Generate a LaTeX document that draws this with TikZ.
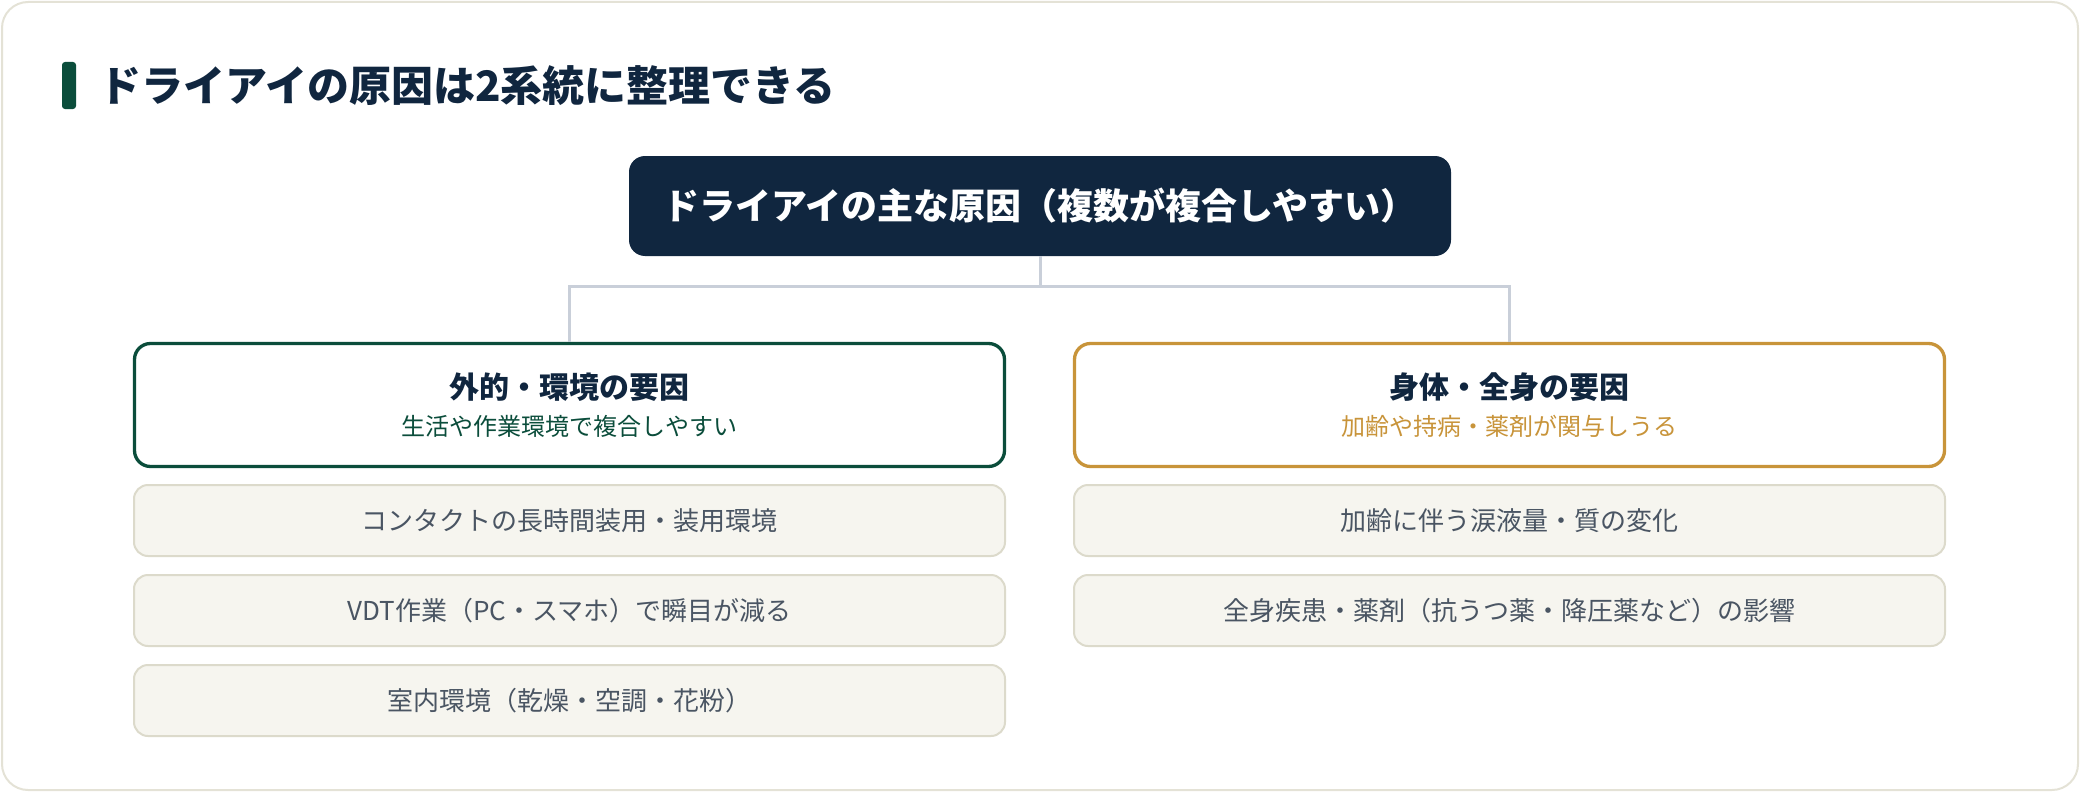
\documentclass[tikz,border=0pt]{standalone}
\usepackage{fontspec}
\setmainfont{Noto Sans CJK JP}
\definecolor{navy}{HTML}{10263F}
\definecolor{extgreen}{HTML}{0B4D3B}
\definecolor{bodygold}{HTML}{C8943A}
\definecolor{itemfill}{HTML}{F6F5EF}
\definecolor{itemline}{HTML}{DCDACB}
\definecolor{itemtext}{HTML}{4A5563}
\definecolor{connline}{HTML}{C9CFD9}
\definecolor{frameline}{HTML}{E4E2D6}

\begin{document}
\begin{tikzpicture}[x=1pt, y=-1pt,
		rootnode/.style={fill=navy, rounded corners=16pt, minimum width=822pt, minimum height=100pt, text=white, font=\fontsize{36}{42}\selectfont\bfseries},
		headnode/.style={draw, fill=white, line width=3.3pt, rounded corners=16pt, minimum width=870pt, minimum height=123pt, align=center, text=navy, font=\fontsize{24}{37}\selectfont},
		itemnode/.style={draw=itemline, fill=itemfill, line width=2pt, rounded corners=14pt, minimum width=871pt, minimum height=71pt, text=itemtext, font=\fontsize{26}{30}\selectfont},
		conn/.style={draw=connline, line width=3pt}
	]

		\useasboundingbox (0,0) rectangle (2080,792);
		\draw[frameline, fill=white, line width=2pt, rounded corners=26pt] (2,2) rectangle (2078,790);

		\fill[extgreen, rounded corners=3pt] (62,62) rectangle (76,109);
		\node[anchor=west, inner sep=0pt, text=navy, font=\fontsize{42}{48}\selectfont\bfseries] (title) at (99,86) {ドライアイの原因は2系統に整理できる};

		\node[rootnode] (root) at (1040,206) {ドライアイの主な原因（複数が複合しやすい）};

		\node[headnode, draw=extgreen] (ext) at (569.5,405) {{\fontsize{30}{37}\selectfont\bfseries 外的・環境の要因}\\{\color{extgreen}生活や作業環境で複合しやすい}};
		\node[headnode, draw=bodygold] (body) at (1509.5,405) {{\fontsize{30}{37}\selectfont\bfseries 身体・全身の要因}\\{\color{bodygold}加齢や持病・薬剤が関与しうる}};

		\draw[conn] (root.south) -- ++(0,30) coordinate (fork) -| (ext.north);
		\draw[conn] (fork) -| (body.north);

		\node[itemnode] (ext1) at (569.5,520.5) {コンタクトの長時間装用・装用環境};
		\node[itemnode] (ext2) at (569.5,610.5) {VDT作業（PC・スマホ）で瞬目が減る};
		\node[itemnode] (ext3) at (569.5,700.5) {室内環境（乾燥・空調・花粉）};

		\node[itemnode] (body1) at (1509.5,520.5) {加齢に伴う涙液量・質の変化};
		\node[itemnode] (body2) at (1509.5,610.5) {全身疾患・薬剤（抗うつ薬・降圧薬など）の影響};

	\end{tikzpicture}
\end{document}
